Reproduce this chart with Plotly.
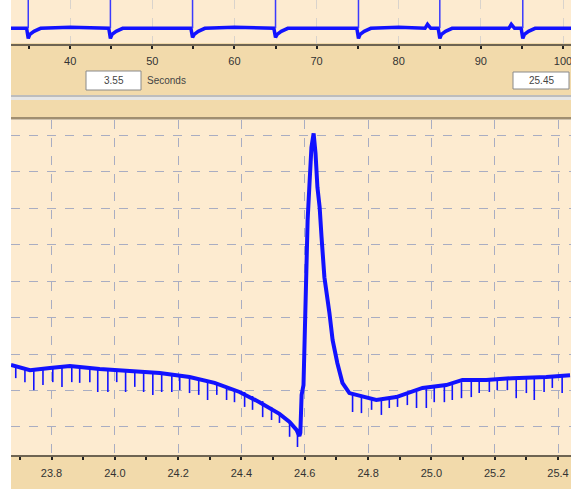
import plotly.graph_objects as go

# ---------------- data ----------------
# Detail view: trend of the signal (time in s, amplitude in mV)
trend_t = [23.672, 23.732, 23.795, 23.858, 23.952, 24.047, 24.142, 24.236, 24.315,
           24.394, 24.457, 24.520, 24.552, 24.574, 24.583, 24.586, 24.590, 24.596,
           24.602, 24.609, 24.615, 24.621, 24.628, 24.634, 24.640, 24.647, 24.653,
           24.662, 24.678, 24.688, 24.703, 24.719, 24.741, 24.773, 24.826, 24.889,
           24.972, 25.047, 25.098, 25.173, 25.255, 25.363, 25.438]
trend_v = [0.170, 0.156, 0.162, 0.167, 0.159, 0.153, 0.148, 0.137, 0.121,
           0.096, 0.068, 0.036, 0.014, -0.008, -0.025, -0.016, 0.088, 0.115,
           0.356, 0.567, 0.669, 0.767, 0.806, 0.751, 0.658, 0.603, 0.521,
           0.411, 0.312, 0.238, 0.175, 0.121, 0.093, 0.085, 0.074, 0.082,
           0.107, 0.115, 0.129, 0.129, 0.134, 0.137, 0.142]

# Detail view: short downward noise spikes (time, top, bottom)
spike_t = [23.687, 23.716, 23.744, 23.773, 23.804, 23.833, 23.864, 23.889, 23.921,
           23.946, 23.978, 24.006, 24.034, 24.063, 24.091, 24.120, 24.148, 24.180,
           24.205, 24.236, 24.265, 24.293, 24.322, 24.353, 24.378, 24.410, 24.435,
           24.467, 24.495, 24.520, 24.552, 24.577,
           24.751, 24.779, 24.811, 24.842, 24.867, 24.893, 24.924, 24.953, 24.984,
           25.009, 25.041, 25.066, 25.095, 25.126, 25.151, 25.183, 25.208, 25.240,
           25.268, 25.300, 25.325, 25.356, 25.382, 25.413]
spike_top = [0.164, 0.159, 0.156, 0.159, 0.162, 0.164, 0.167, 0.164, 0.162,
             0.159, 0.156, 0.156, 0.153, 0.153, 0.151, 0.151, 0.148, 0.145,
             0.142, 0.137, 0.132, 0.126, 0.121, 0.112, 0.104, 0.096, 0.085,
             0.071, 0.055, 0.036, 0.014, -0.008,
             0.093, 0.088, 0.082, 0.079, 0.079, 0.082, 0.088, 0.096, 0.104,
             0.107, 0.112, 0.115, 0.123, 0.129, 0.129, 0.129, 0.129, 0.132,
             0.132, 0.134, 0.134, 0.137, 0.137, 0.140]
spike_bot = [0.134, 0.123, 0.101, 0.115, 0.123, 0.110, 0.123, 0.121, 0.123,
             0.096, 0.096, 0.123, 0.096, 0.110, 0.096, 0.088, 0.096, 0.096,
             0.101, 0.093, 0.088, 0.074, 0.088, 0.074, 0.068, 0.055, 0.047,
             0.027, 0.019, 0.011, -0.027, -0.055,
             0.041, 0.038, 0.047, 0.033, 0.052, 0.055, 0.060, 0.052, 0.052,
             0.068, 0.068, 0.074, 0.079, 0.082, 0.093, 0.096, 0.101, 0.101,
             0.079, 0.093, 0.074, 0.096, 0.107, 0.093]

# Overview strip: baseline with post-beat dips, and the beat spikes
ov_t = [32.8, 34.7, 34.9, 35.1, 35.6, 36.4, 40.0, 44.7, 44.9, 45.1, 45.6, 46.4,
        50.0, 54.7, 54.9, 55.1, 55.6, 56.4, 60.0, 64.8, 65.0, 65.2, 65.7, 66.5,
        70.0, 74.9, 75.1, 75.3, 75.8, 76.6, 80.0, 83.2, 83.5, 83.9, 84.8, 85.0, 85.2,
        85.7, 86.5, 90.0, 93.4, 93.7, 94.1, 94.9, 95.1, 95.3, 95.8, 96.6, 101.0]
ov_v = [0.0, 0.0, -0.10, -0.06, -0.03, 0.0, 0.01, 0.0, -0.10, -0.06, -0.03, 0.0,
        0.0, 0.0, -0.09, -0.06, -0.03, 0.0, 0.01, 0.0, -0.09, -0.06, -0.03, 0.0,
        0.0, 0.0, -0.10, -0.06, -0.03, 0.0, 0.01, 0.0, 0.04, 0.0, 0.0, -0.10, -0.06,
        -0.03, 0.0, 0.0, 0.0, 0.04, 0.0, 0.0, -0.10, -0.06, -0.03, 0.0, 0.0]
beat_t = [34.9, 44.9, 54.9, 65.0, 75.1, 85.0, 95.1]
beat_peak = [0.9, 0.9, 0.9, 0.9, 0.9, 0.9, 0.9]

# Tick/box texts
left_box = "3.55"
unit_text = "Seconds"
right_box = "25.45"

# ---------------- styling ----------------
W, H = 571, 489
BEIGE = "#FDEBD0"
TAN = "#F2DAAB"
GRID = "#A9ADC2"
AXIS = "#6E6452"
BLUE = "#1212FF"
FONT = "Liberation Sans"

def px(x):
    return x / W

def py(y):
    return 1 - y / H

fig = go.Figure()

# detail trend
fig.add_trace(go.Scatter(x=trend_t, y=trend_v, mode="lines",
                         line=dict(color=BLUE, width=4), xaxis="x", yaxis="y",
                         hoverinfo="skip"))
# detail spikes
sx, sy = [], []
for t, a, b in zip(spike_t, spike_top, spike_bot):
    sx += [t, t, None]
    sy += [a, b, None]
fig.add_trace(go.Scatter(x=sx, y=sy, mode="lines",
                         line=dict(color=BLUE, width=1.6), xaxis="x", yaxis="y",
                         hoverinfo="skip"))
# overview baseline
fig.add_trace(go.Scatter(x=ov_t, y=ov_v, mode="lines",
                         line=dict(color=BLUE, width=3.5), xaxis="x2", yaxis="y2",
                         hoverinfo="skip"))
# overview beats
bx, by = [], []
for t, p in zip(beat_t, beat_peak):
    bx += [t, t, None]
    by += [0.0, p, None]
fig.add_trace(go.Scatter(x=bx, y=by, mode="lines",
                         line=dict(color="#3A3AFF", width=1.5), xaxis="x2", yaxis="y2",
                         hoverinfo="skip"))

xdom = [px(11), 1]
shapes = [
    dict(type="rect", xref="paper", yref="paper", x0=px(11), x1=1, y0=py(95), y1=py(43),
         fillcolor=TAN, line_width=0, layer="below"),
    dict(type="rect", xref="paper", yref="paper", x0=px(11), x1=1, y0=py(97), y1=py(95),
         fillcolor="#BDBDBD", line_width=0, layer="below"),
    dict(type="rect", xref="paper", yref="paper", x0=px(11), x1=1, y0=py(100), y1=py(97),
         fillcolor="#E6E6E6", line_width=0, layer="below"),
    dict(type="rect", xref="paper", yref="paper", x0=px(11), x1=1, y0=py(117), y1=py(100),
         fillcolor=TAN, line_width=0, layer="below"),
    dict(type="rect", xref="paper", yref="paper", x0=px(11), x1=1, y0=py(119.5), y1=py(117),
         fillcolor="#A08E70", line_width=0, layer="below"),
    dict(type="rect", xref="paper", yref="paper", x0=px(11), x1=1, y0=0, y1=py(455),
         fillcolor=TAN, line_width=0, layer="below"),
    dict(type="rect", xref="paper", yref="paper", x0=px(86), x1=px(141), y0=py(90), y1=py(71),
         fillcolor="white", line=dict(color="#8A8A8A", width=1)),
    dict(type="rect", xref="paper", yref="paper", x0=px(513), x1=px(569), y0=py(89), y1=py(72),
         fillcolor="white", line=dict(color="#8A8A8A", width=1)),
]

annotations = [
    dict(xref="paper", yref="paper", x=px(114), y=py(80.5), text=left_box, showarrow=False,
         font=dict(family=FONT, size=10, color="#444"), xanchor="center", yanchor="middle"),
    dict(xref="paper", yref="paper", x=px(145), y=py(81), text=unit_text, showarrow=False,
         font=dict(family=FONT, size=10, color="#444"), xanchor="left", yanchor="middle"),
    dict(xref="paper", yref="paper", x=px(541), y=py(80.5), text=right_box, showarrow=False,
         font=dict(family=FONT, size=10, color="#444"), xanchor="center", yanchor="middle"),
]

fig.update_layout(
    width=W, height=H,
    margin=dict(l=0, r=0, t=0, b=0),
    paper_bgcolor="white",
    plot_bgcolor=BEIGE,
    showlegend=False,
    shapes=shapes,
    annotations=annotations,
    xaxis=dict(domain=xdom, anchor="y", range=[23.672, 25.441], tick0=0, dtick=0.2,
               tickformat=".1f", ticks="outside", ticklen=3, tickwidth=2, tickcolor="#222",
               showline=True, linecolor=AXIS, linewidth=2,
               showgrid=True, gridcolor=GRID, griddash="dash", gridwidth=1,
               minor=dict(dtick=0.1, ticks="outside", ticklen=3, tickwidth=2, tickcolor="#222",
                          showgrid=False),
               tickfont=dict(family=FONT, size=11, color="#333"), zeroline=False,
               ticklabelstandoff=4, ticklabeloverflow="allow", fixedrange=True),
    yaxis=dict(domain=[py(455), py(119.5)], anchor="x", range=[-0.077, 0.844], tick0=0,
               dtick=0.1, showticklabels=False, ticks="", showgrid=True, gridcolor=GRID,
               griddash="dash", gridwidth=1, zeroline=False, showline=False),
    xaxis2=dict(domain=xdom, anchor="y2", range=[32.8, 100.97], tick0=0, dtick=10,
                ticks="outside", ticklen=3, tickwidth=2, tickcolor="#222",
                showline=True, linecolor=AXIS, linewidth=2,
                showgrid=True, gridcolor="#D9D3CC", griddash="dash", gridwidth=1,
                minor=dict(dtick=5, ticks="outside", ticklen=3, tickwidth=2, tickcolor="#222",
                           showgrid=False),
                tickfont=dict(family=FONT, size=11, color="#333"), zeroline=False,
                ticklabelstandoff=3, ticklabeloverflow="allow"),
    yaxis2=dict(domain=[py(43.5), 1], anchor="x2", range=[-0.15, 0.28], showticklabels=False,
                ticks="", showgrid=False, zeroline=False, showline=False),
)

fig.write_html("out.html")
